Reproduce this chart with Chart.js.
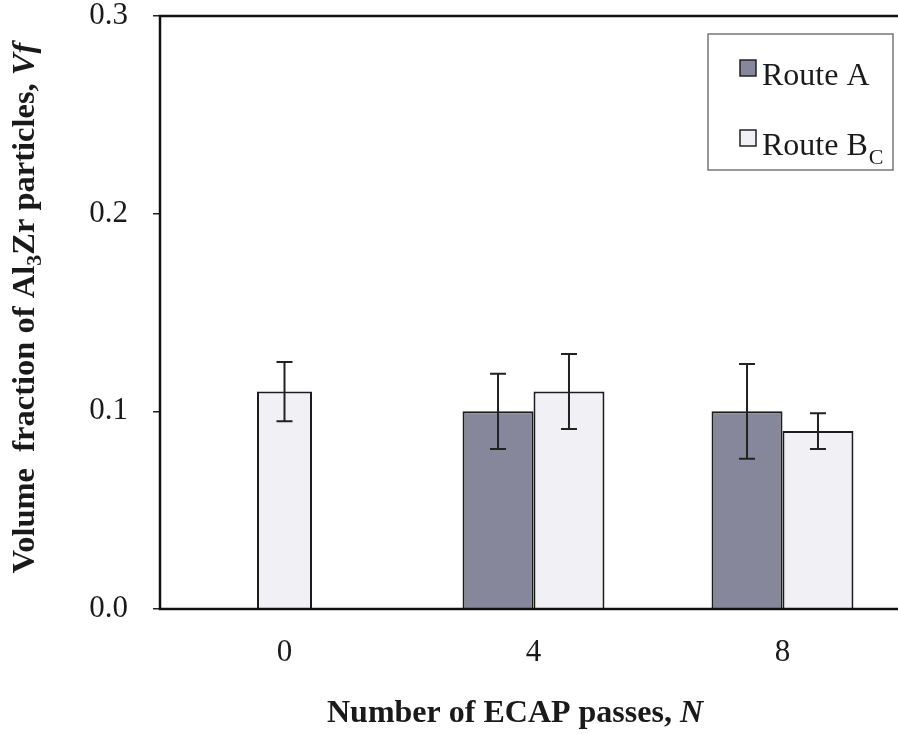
<!DOCTYPE html>
<html>
<head>
<meta charset="utf-8">
<title>Volume fraction of Al3Zr particles vs ECAP passes</title>
<script src="https://cdn.jsdelivr.net/npm/chart.js@4.4.1/dist/chart.umd.min.js"></script>
<style>
  html, body { margin: 0; padding: 0; background: #fff; overflow: hidden; }
  #wrap { width: 910px; height: 734px; }
</style>
</head>
<body>
<div id="wrap"><canvas id="vfChart"></canvas></div>
<script>
// ECAP passes on the x axis
const passes = ['0', '4', '8'];
// volume fraction and error (+/-) per route
const routeA = [null, 0.10, 0.10];
const routeAErr = [null, 0.019, 0.024];
const routeB = [0.11, 0.11, 0.09];
const routeBErr = [0.015, 0.019, 0.009];
// "_" marks the start of a subscript
const seriesLabels = ['Route A', 'Route B_C'];
const yTicks = [0, 0.1, 0.2, 0.3];

const SERIF = '"Liberation Serif", "Times New Roman", serif';
const INK = '#1a1a1a';

// draws text made of styled pieces, centred on (0, 0)
function drawRich(ctx, parts, size) {
  const fontOf = p => (p.italic ? 'italic ' : '') + (p.bold ? 'bold ' : '') +
    (p.sub ? Math.round(size * 0.68) : size) + 'px ' + SERIF;
  let total = 0;
  parts.forEach(p => { ctx.font = fontOf(p); total += ctx.measureText(p.t).width; });
  let x = -total / 2;
  parts.forEach(p => {
    ctx.font = fontOf(p);
    ctx.fillText(p.t, x, p.sub ? size * 0.22 : 0);
    x += ctx.measureText(p.t).width;
  });
}

// a bar that is alone in its category gets drawn narrower
const loneBar = {
  id: 'loneBar',
  afterDatasetsUpdate(chart) {
    const sets = chart.data.datasets;
    sets.forEach((ds, i) => {
      chart.getDatasetMeta(i).data.forEach((bar, j) => {
        if (ds.data[j] == null) return;
        const partner = sets.some((d, k) => k !== i && d.data[j] != null);
        if (!partner) bar.width = 55;
      });
    });
  }
};

const errorBars = {
  id: 'errorBars',
  afterDatasetsDraw(chart) {
    const ctx = chart.ctx;
    const y = chart.scales.y;
    ctx.save();
    ctx.strokeStyle = '#222';
    ctx.lineWidth = 2;
    chart.data.datasets.forEach((ds, i) => {
      const meta = chart.getDatasetMeta(i);
      ds.errors.forEach((e, j) => {
        if (e == null || ds.data[j] == null) return;
        const x = meta.data[j].x;
        const top = y.getPixelForValue(ds.data[j] + e);
        const bot = y.getPixelForValue(ds.data[j] - e);
        ctx.beginPath();
        ctx.moveTo(x, top); ctx.lineTo(x, bot);
        ctx.moveTo(x - 8, top); ctx.lineTo(x + 8, top);
        ctx.moveTo(x - 8, bot); ctx.lineTo(x + 8, bot);
        ctx.stroke();
      });
    });
    ctx.restore();
  }
};

// plot frame, axis titles and the boxed legend
const decor = {
  id: 'decor',
  afterDraw(chart) {
    const ctx = chart.ctx;
    const ca = chart.chartArea;
    ctx.save();
    ctx.strokeStyle = '#111';
    ctx.lineWidth = 2.5;
    ctx.strokeRect(ca.left, ca.top, ca.right - ca.left, ca.bottom - ca.top);

    ctx.fillStyle = INK;
    ctx.textBaseline = 'alphabetic';
    ctx.save();
    ctx.translate(515, 722);
    drawRich(ctx, [{ t: 'Number of ECAP passes, ', bold: true },
                   { t: 'N', bold: true, italic: true }], 32);
    ctx.restore();

    ctx.save();
    ctx.translate(34, 308);
    ctx.rotate(-Math.PI / 2);
    drawRich(ctx, [{ t: 'Volume  fraction of Al', bold: true },
                   { t: '3', bold: true, sub: true },
                   { t: 'Zr particles, ', bold: true },
                   { t: 'Vf', bold: true, italic: true }], 32.5);
    ctx.restore();

    // legend
    ctx.strokeStyle = '#777';
    ctx.lineWidth = 1.5;
    ctx.strokeRect(708, 34, 185, 136);
    chart.data.datasets.forEach((ds, i) => {
      const top = 60 + i * 70;
      ctx.fillStyle = ds.backgroundColor;
      ctx.fillRect(740, top, 16, 16);
      ctx.strokeStyle = '#222';
      ctx.lineWidth = 1.5;
      ctx.strokeRect(740, top, 16, 16);
      const [main, sub] = ds.label.split('_');
      ctx.fillStyle = INK;
      ctx.font = '32px ' + SERIF;
      ctx.fillText(main, 762, top + 25);
      if (sub) {
        const w = ctx.measureText(main).width;
        ctx.font = '22px ' + SERIF;
        ctx.fillText(sub, 762 + w + 1, top + 34);
      }
    });
    ctx.restore();
  }
};

const ctx = document.getElementById('vfChart').getContext('2d');
new Chart(ctx, {
  type: 'bar',
  data: {
    labels: passes,
    datasets: [
      {
        label: seriesLabels[0],
        data: routeA,
        errors: routeAErr,
        backgroundColor: '#86879a',
        borderColor: '#1c1c1c',
        borderWidth: 2,
        skipNull: true,
        categoryPercentage: 0.57,
        barPercentage: 1
      },
      {
        label: seriesLabels[1],
        data: routeB,
        errors: routeBErr,
        backgroundColor: '#f1f1f5',
        borderColor: '#1c1c1c',
        borderWidth: 2,
        skipNull: true,
        categoryPercentage: 0.57,
        barPercentage: 1
      }
    ]
  },
  options: {
    responsive: true,
    maintainAspectRatio: false,
    animation: false,
    layout: { padding: { left: 0, top: 16, right: 3, bottom: 0 } },
    plugins: {
      legend: { display: false },
      tooltip: { enabled: false }
    },
    scales: {
      x: {
        grid: { display: false },
        border: { display: false },
        ticks: {
          color: INK,
          padding: 20,
          font: { family: SERIF, size: 31, lineHeight: 1 }
        },
        afterFit: s => { s.height = 125; }
      },
      y: {
        min: 0,
        max: 0.3,
        afterBuildTicks: s => { s.ticks = yTicks.map(v => ({ value: v })); },
        grid: {
          drawOnChartArea: false,
          drawTicks: true,
          tickLength: 7,
          color: '#222',
          lineWidth: 1.5
        },
        border: { display: false },
        ticks: {
          color: INK,
          padding: 25,
          font: { family: SERIF, size: 31, lineHeight: 1 },
          callback: v => v.toFixed(1)
        },
        // keep the label padding from pushing the plot top down
        afterFit: s => { s.width = 160; s.paddingTop = 0; s.paddingBottom = 0; }
      }
    }
  },
  plugins: [loneBar, errorBars, decor]
});
</script>
</body>
</html>
